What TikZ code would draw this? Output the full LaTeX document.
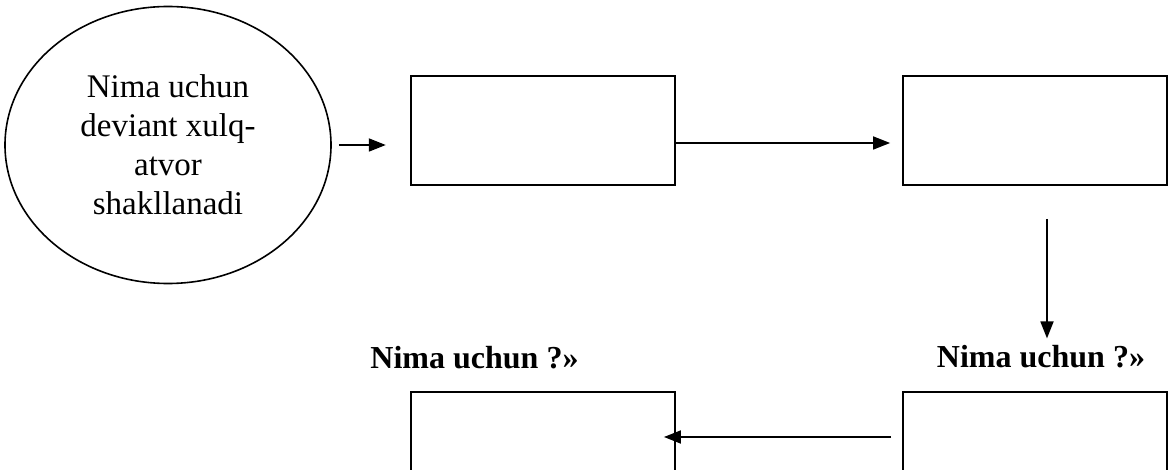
\documentclass[tikz,border=0pt]{standalone}
\usepackage{fontspec}
\setmainfont{Liberation Serif}
\usetikzlibrary{arrows.meta, shapes, positioning, calc}

\begin{document}
\begin{tikzpicture}[x=0.5pt, y=-0.5pt,
    box/.style={shape=rectangle, draw=black, line width=0.9pt, minimum width=132pt, minimum height=54.5pt},
    arr/.style={line width=0.9pt, -{Triangle[length=8.5pt, width=6.5pt]}},
    lbl/.style={font=\fontsize{16}{20}\selectfont\bfseries, inner sep=0pt, anchor=base}]
    \clip (0,0) rectangle (1174,470);
    \node[shape=ellipse, draw=black, line width=0.8pt, minimum width=163pt, minimum height=138.5pt,
          align=center, font=\fontsize{16.5}{19.5}\selectfont] (savol) at (168,145)
          {Nima uchun\\deviant xulq-\\atvor\\shakllanadi};
    \node[box] (B1) at ( 543,130.5) {};
    \node[box] (B2) at (1035,130.5) {};
    \node[box] (B3) at ( 543,446.5) {};
    \node[box] (B4) at (1035,446.5) {};
    \node[lbl] (L1) at ( 474.5,369) {Nima uchun ?»};
    \node[lbl] (L2) at (1041,368) {Nima uchun ?»};
    \draw[arr] ([xshift=3.5pt]savol.east) -- ++(23.5pt,0);
    \draw[arr] ([yshift=-6.25pt]B1.east) -- ([yshift=-6.25pt, xshift=-6pt]B2.west);
    \draw[arr] ([xshift=6pt, yshift=-16.5pt]B2.south) -- ([xshift=6pt, yshift=3.5pt]B2.south |- L2.north);
    \draw[arr] ([xshift=-5.5pt, yshift=4.75pt]B4.west) -- ([xshift=-6pt, yshift=4.75pt]B3.east);
\end{tikzpicture}
\end{document}
